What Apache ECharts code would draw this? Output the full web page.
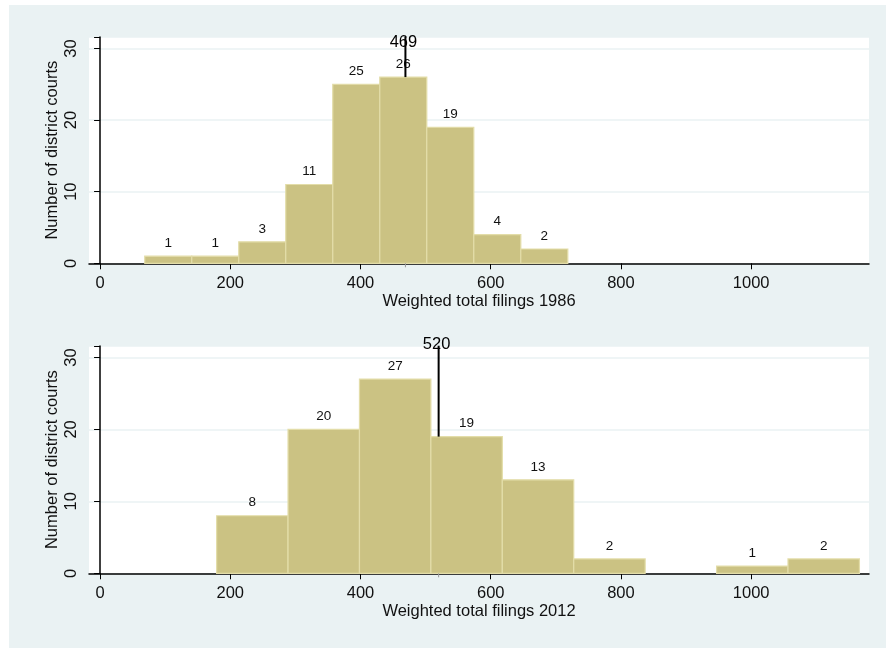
<!DOCTYPE html>
<html><head><meta charset="utf-8">
<script src="https://cdn.jsdelivr.net/npm/echarts@6/dist/echarts.min.js"></script>
<style>html,body{margin:0;padding:0;background:#fff}#c{width:886px;height:649px}</style>
</head><body><div id="c"></div>
<script>
// 1986 histogram
const binStart1986 = [68.6, 140.8, 213.0, 285.2, 357.4, 429.6, 501.8, 574.0, 646.2];
const binWidth1986 = 72.2;
const counts1986 = [1, 1, 3, 11, 25, 26, 19, 4, 2];
const median1986 = 469;
// 2012 histogram
const binStart2012 = [179.0, 288.7, 398.4, 508.1, 617.8, 727.5, 837.2, 946.9, 1056.6];
const binWidth2012 = 109.7;
const counts2012 = [8, 20, 27, 19, 13, 2, 0, 1, 2];
const median2012 = 520;
const xTicks = [0, 200, 400, 600, 800, 1000];
const xTitles = ['Weighted total filings 1986', 'Weighted total filings 2012'];
const yTitle = 'Number of district courts';

const FONT = 'Liberation Sans, Arial, sans-serif';
const BAR = '#cbc283', BAR_EDGE = '#e3dda9', BG = '#eaf2f3';

function binData(starts, w, counts) {
  return starts.map((s, i) => [s, s + w, counts[i]]);
}
function histSeries(idx, data) {
  return {
    type: 'custom', xAxisIndex: idx, yAxisIndex: idx,
    data: data, encode: {x: [0, 1], y: 2},
    renderItem: function (params, api) {
      const x0 = api.value(0), x1 = api.value(1), v = api.value(2);
      if (!v) return null;
      const p0 = api.coord([x0, v]), p1 = api.coord([x1, 0]);
      return {
        type: 'group', children: [
          {type: 'rect', shape: {x: p0[0], y: p0[1], width: p1[0] - p0[0], height: p1[1] - p0[1]},
           style: {fill: BAR, stroke: BAR_EDGE, lineWidth: 1.2}},
          {type: 'text', x: (p0[0] + p1[0]) / 2, y: p0[1] - 6,
           style: {text: String(v), fill: '#111', font: '13.5px ' + FONT, align: 'center', verticalAlign: 'bottom'}}
        ]
      };
    }
  };
}
function medianSeries(idx, med, barTop, labelY) {
  return {
    type: 'custom', xAxisIndex: idx, yAxisIndex: idx, data: [[med, barTop]],
    encode: {x: 0, y: 1}, z: 5,
    renderItem: function (params, api) {
      const m = api.value(0), b = api.value(1);
      const pb = api.coord([m, b]), pt = api.coord([m, 31.5]), pl = api.coord([m, labelY]);
      const p0 = api.coord([m, 0]);
      return {
        type: 'group', children: [
          {type: 'line', shape: {x1: pb[0], y1: pb[1], x2: pt[0], y2: pt[1] - 1}, style: {stroke: '#000', lineWidth: 2}},
          {type: 'line', shape: {x1: p0[0], y1: p0[1], x2: p0[0], y2: p0[1] + 4}, style: {stroke: '#999', lineWidth: 1}},
          {type: 'text', x: pl[0] - 2, y: pl[1],
           style: {text: String(m), fill: '#000', font: '16.5px ' + FONT, align: 'center', verticalAlign: 'middle'}}
        ]
      };
    }
  };
}
function xAxis(idx) {
  return {
    type: 'value', gridIndex: idx, min: -17, max: 1181,
    name: xTitles[idx], nameLocation: 'middle', nameGap: 30, nameMoveOverlap: false,
    nameTextStyle: {color: '#111', fontSize: 16.5, fontFamily: FONT},
    axisLine: {show: true, lineStyle: {color: '#000', width: 1.5}},
    axisTick: {show: true, customValues: xTicks, length: 6, lineStyle: {color: '#000'}},
    axisLabel: {customValues: xTicks, color: '#111', fontSize: 16.5, fontFamily: FONT, margin: 12,
                formatter: v => String(v)},
    splitLine: {show: false}
  };
}
function yAxis(idx) {
  return {
    type: 'value', gridIndex: idx, min: 0, max: 31.6, interval: 10,
    name: yTitle, nameLocation: 'middle', nameGap: 28, nameRotate: 90, nameMoveOverlap: false,
    nameTextStyle: {color: '#111', fontSize: 16.5, fontFamily: FONT},
    axisLine: {show: true, lineStyle: {color: '#000', width: 1.5}},
    axisTick: {show: true, length: 6, lineStyle: {color: '#000'}},
    axisLabel: {rotate: 90, color: '#111', fontSize: 16.5, fontFamily: FONT, margin: 9,
                formatter: v => (v % 10 === 0 ? String(v) : '')},
    splitLine: {show: true, lineStyle: {color: BG, width: 1.5}}
  };
}

const chart = echarts.init(document.getElementById('c'));
chart.setOption({
  animation: false,
  backgroundColor: '#fff',
  graphic: [
    {type: 'rect', left: 9, top: 5, shape: {width: 877, height: 643}, style: {fill: BG}, z: -10, silent: true},
    {type: 'rect', left: 89, top: 37, shape: {width: 780, height: 226}, style: {fill: '#fff'}, z: -9, silent: true},
    {type: 'rect', left: 89, top: 346, shape: {width: 780, height: 227}, style: {fill: '#fff'}, z: -9, silent: true}
  ],
  grid: [
    {left: 89, top: 37, width: 780, height: 226.3},
    {left: 89, top: 346, width: 780, height: 227.3}
  ],
  xAxis: [xAxis(0), xAxis(1)],
  yAxis: [yAxis(0), yAxis(1)],
  series: [
    histSeries(0, binData(binStart1986, binWidth1986, counts1986)),
    medianSeries(0, median1986, 26, 30.9),
    histSeries(1, binData(binStart2012, binWidth2012, counts2012)),
    medianSeries(1, median2012, 19, 31.8)
  ]
});
</script></body></html>
